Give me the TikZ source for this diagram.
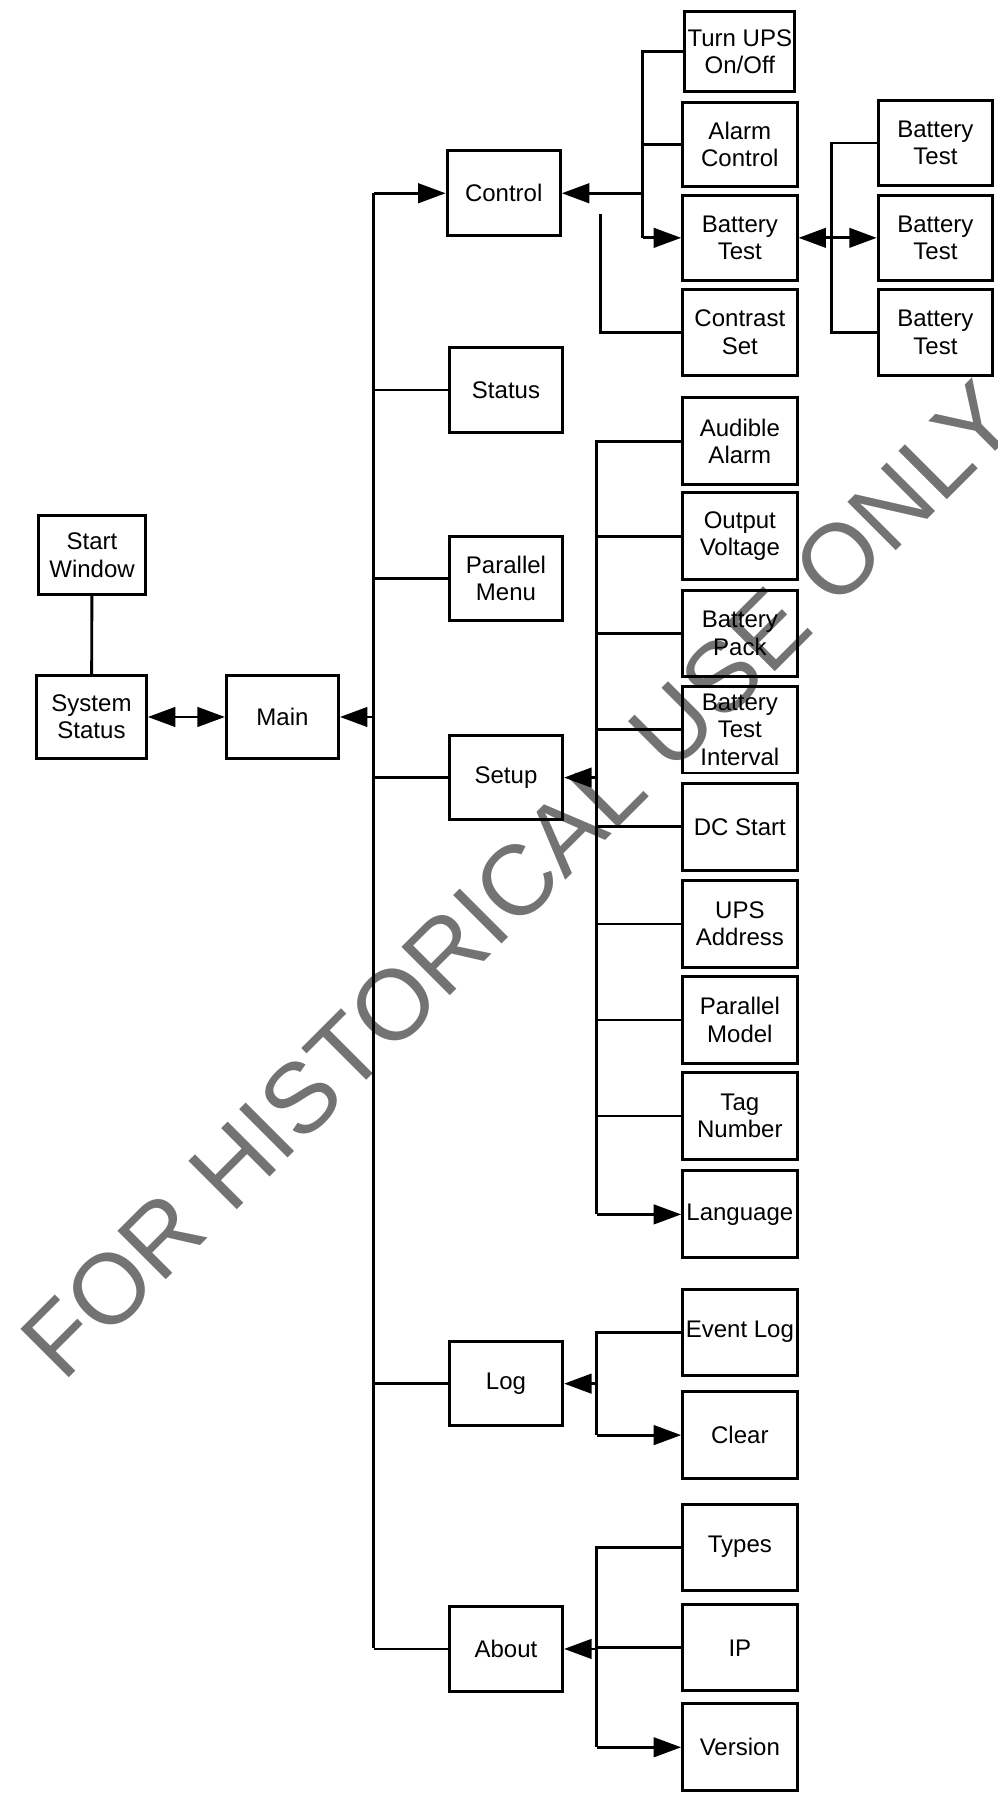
\documentclass[tikz,border=0pt]{standalone}
\usepackage{fontspec}
\setmainfont{Liberation Sans}
\usetikzlibrary{arrows.meta}
\definecolor{wmgray}{RGB}{115,115,115}
\begin{document}
\begin{tikzpicture}[x=1pt,y=-1pt,
  box/.style={draw,line width=2.6pt,inner sep=0pt,align=center,
    font=\fontsize{21}{24}\selectfont,minimum width=100pt,minimum height=75pt},
  conn/.style={line width=2.5pt},
  arr/.style={conn,-{Triangle[length=24pt,width=17pt]}},
  darr/.style={conn,{Triangle[length=24pt,width=17pt]}-{Triangle[length=24pt,width=17pt]}}]
\useasboundingbox (0,0) rectangle (872,1568);
% watermark
\node[rotate=45,anchor=base west,text=wmgray,inner sep=0pt,
  font=\fontsize{87}{87}\selectfont] (wm) at (55,1210) {FOR HISTORICAL USE ONLY};
% left
\node[box,minimum width=93pt,minimum height=69pt] (start) at (80.5,485.5) {Start\\Window};
\node[box,minimum width=96pt,minimum height=72pt] (sys) at (80,627) {System\\Status};
\node[box,minimum width=98pt,minimum height=72pt] (main) at (247,627) {Main};
% level 1
\node[box,minimum width=99pt,minimum height=74pt] (control) at (440.5,169) {Control};
\node[box,minimum width=99pt,minimum height=74pt] (status) at (442.5,341) {Status};
\node[box,minimum width=99pt,minimum height=74pt] (parallel) at (442.5,506) {Parallel\\Menu};
\node[box,minimum width=99pt,minimum height=74pt] (setup) at (442.5,680) {Setup};
\node[box,minimum width=99pt,minimum height=74pt] (log) at (442.5,1210) {Log};
\node[box,minimum width=99pt,minimum height=74pt] (about) at (442.5,1442) {About};
% control children
\node[box,minimum width=96pt,minimum height=70pt] (turn) at (647,45) {Turn UPS\\On/Off};
\node[box,minimum height=73pt] (alarmc) at (647,126.5) {Alarm\\Control};
\node[box,minimum height=74pt] (battest) at (647,208) {Battery\\Test};
\node[box] (contrast) at (647,290.5) {Contrast\\Set};
\node[box,minimum height=74pt] (bta) at (818,125) {Battery\\Test};
\node[box,minimum height=74pt] (btb) at (818,208) {Battery\\Test};
\node[box] (btc) at (818,290.5) {Battery\\Test};
% setup children
\node[box,minimum height=76pt] (audible) at (647,386) {Audible\\Alarm};
\node[box,minimum height=76pt] (outv) at (647,469) {Output\\Voltage};
\node[box,minimum height=76pt] (bpack) at (647,554) {Battery\\Pack};
\node[box,minimum height=76pt] (btint) at (647,638) {Battery\\Test\\Interval};
\node[box,minimum height=76pt] (dcstart) at (647,723) {DC Start};
\node[box,minimum height=76pt] (upsaddr) at (647,808) {UPS\\Address};
\node[box,minimum height=76pt] (pmodel) at (647,892) {Parallel\\Model};
\node[box,minimum height=76pt] (tagnum) at (647,976) {Tag\\Number};
\node[box,minimum height=76pt] (lang) at (647,1062) {Language};
% log children
\node[box] (evlog) at (647,1165) {Event Log};
\node[box,minimum height=76pt] (clear) at (647,1255) {Clear};
% about children
\node[box] (types) at (647,1353) {Types};
\node[box] (ip) at (647,1441) {IP};
\node[box,minimum height=76pt] (version) at (647,1528) {Version};
% bus coordinates
\coordinate (mbT) at (327,169);
\coordinate (mbB) at (327,1441);
\coordinate (mbM) at (327,627);
% left connectors
\draw[conn] (start) -- (sys);
\draw[darr] (sys.east) -- (main.west);
\draw[arr] (mbM) -- (main.east);
% main bus
\draw[conn] (mbT) -- (mbB);
\draw[arr] (mbT) -- (control.west);
\draw[conn] (status.west) -- (status.west -| mbT);
\draw[conn] (parallel.west) -- (parallel.west -| mbT);
\draw[conn] (setup.west) -- (setup.west -| mbT);
\draw[conn] (log.west) -- (log.west -| mbT);
\draw[conn] (about.west) -- (about.west -| mbT);
% control bus
\coordinate (cbT) at (562,45);
\coordinate (cbB) at (562,208);
\coordinate (cbM) at (562,169);
\draw[conn] (turn.west) -- (cbT) -- (cbB);
\draw[conn] (alarmc.west) -- (alarmc.west -| cbT);
\draw[arr] (cbM) -- (control.east);
\draw[arr] (cbB) -- (battest.west);
\coordinate (csTop) at (525,187);
\draw[conn] (contrast.west) -- (contrast.west -| csTop) -- (csTop);
% battery test bus
\coordinate (bbT) at (727,125);
\coordinate (bbB) at (727,290.5);
\draw[conn] (bta.west) -- (bbT) -- (bbB) -- (btc.west);
\draw[darr] (battest.east) -- (btb.west);
% setup bus
\coordinate (sbT) at (522,386);
\coordinate (sbB) at (522,1062);
\draw[conn] (audible.west) -- (sbT) -- (sbB);
\draw[arr] (sbB) -- (lang.west);
\foreach \n in {outv,bpack,btint,dcstart,upsaddr,pmodel,tagnum}
  \draw[conn] (\n.west) -- (\n.west -| sbT);
\draw[arr] (setup.east -| sbT) -- (setup.east);
% log bus
\coordinate (lbT) at (522,1165);
\coordinate (lbB) at (522,1255);
\draw[conn] (evlog.west) -- (lbT) -- (lbB);
\draw[arr] (lbB) -- (clear.west);
\draw[arr] (log.east -| lbT) -- (log.east);
% about bus
\coordinate (abT) at (522,1353);
\coordinate (abB) at (522,1528);
\draw[conn] (types.west) -- (abT) -- (abB);
\draw[arr] (abB) -- (version.west);
\draw[conn] (ip.west) -- (ip.west -| abT);
\draw[arr] (about.east -| abT) -- (about.east);
\end{tikzpicture}
\end{document}
